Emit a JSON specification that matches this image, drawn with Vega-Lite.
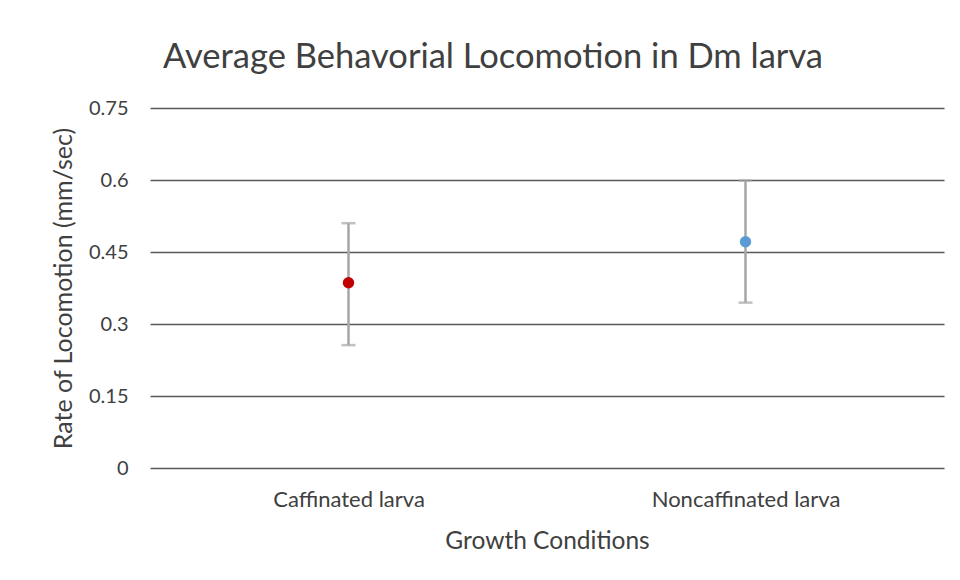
{
  "$schema": "https://vega.github.io/schema/vega-lite/v6.json",
  "width": 794,
  "height": 360,
  "autosize": "none",
  "padding": {"left": 150, "top": 108, "right": 16, "bottom": 112},
  "background": "white",
  "config": {
    "font": "Lato",
    "view": {"stroke": null}
  },
  "title": {
    "text": "Average Behavorial Locomotion in Dm larva",
    "fontSize": 34.5,
    "fontWeight": "normal",
    "color": "#404040",
    "anchor": "middle",
    "dx": -54,
    "offset": 23
  },
  "data": {
    "values": [
      {"condition": "Caffinated larva", "mean": 0.386, "lower": 0.256, "upper": 0.51},
      {"condition": "Noncaffinated larva", "mean": 0.4715, "lower": 0.3445, "upper": 0.599}
    ]
  },
  "encoding": {
    "x": {
      "field": "condition",
      "type": "nominal",
      "scale": {"type": "point", "padding": 0.5},
      "axis": {
        "title": "Growth Conditions",
        "labelAngle": 0,
        "labelLimit": 400,
        "domain": false,
        "ticks": false,
        "grid": false,
        "labelFontSize": 22,
        "labelColor": "#404040",
        "labelPadding": 21,
        "titleFontSize": 24.5,
        "titleFontWeight": "normal",
        "titleColor": "#404040",
        "titlePadding": 19
      }
    }
  },
  "layer": [
    {
      "mark": {"type": "rule", "color": "#a6a6a6", "strokeWidth": 2.5},
      "encoding": {
        "y": {
          "field": "lower",
          "type": "quantitative",
          "scale": {"domain": [0, 0.75], "nice": false},
          "axis": {
            "title": "Rate of Locomotion (mm/sec)",
            "values": [0, 0.15, 0.3, 0.45, 0.6, 0.75],
            "labelExpr": "'' + datum.value",
            "domain": false,
            "ticks": false,
            "grid": true,
            "gridColor": "#595959",
            "gridWidth": 1.6,
            "gridOpacity": 1,
            "labelFontSize": 20,
            "labelColor": "#404040",
            "labelPadding": 22,
            "titleFontSize": 25,
            "titleFontWeight": "normal",
            "titleColor": "#404040",
            "titlePadding": 12
          }
        },
        "y2": {"field": "upper"}
      }
    },
    {
      "mark": {"type": "tick", "color": "#a6a6a6", "orient": "horizontal", "size": 14, "thickness": 2.5},
      "encoding": {"y": {"field": "lower", "type": "quantitative"}}
    },
    {
      "mark": {"type": "tick", "color": "#a6a6a6", "orient": "horizontal", "size": 14, "thickness": 2.5},
      "encoding": {"y": {"field": "upper", "type": "quantitative"}}
    },
    {
      "mark": {"type": "point", "filled": true, "opacity": 1, "size": 130},
      "encoding": {
        "y": {"field": "mean", "type": "quantitative"},
        "color": {
          "field": "condition",
          "type": "nominal",
          "scale": {"domain": ["Caffinated larva", "Noncaffinated larva"], "range": ["#c00000", "#5b9bd5"]},
          "legend": null
        }
      }
    }
  ]
}
